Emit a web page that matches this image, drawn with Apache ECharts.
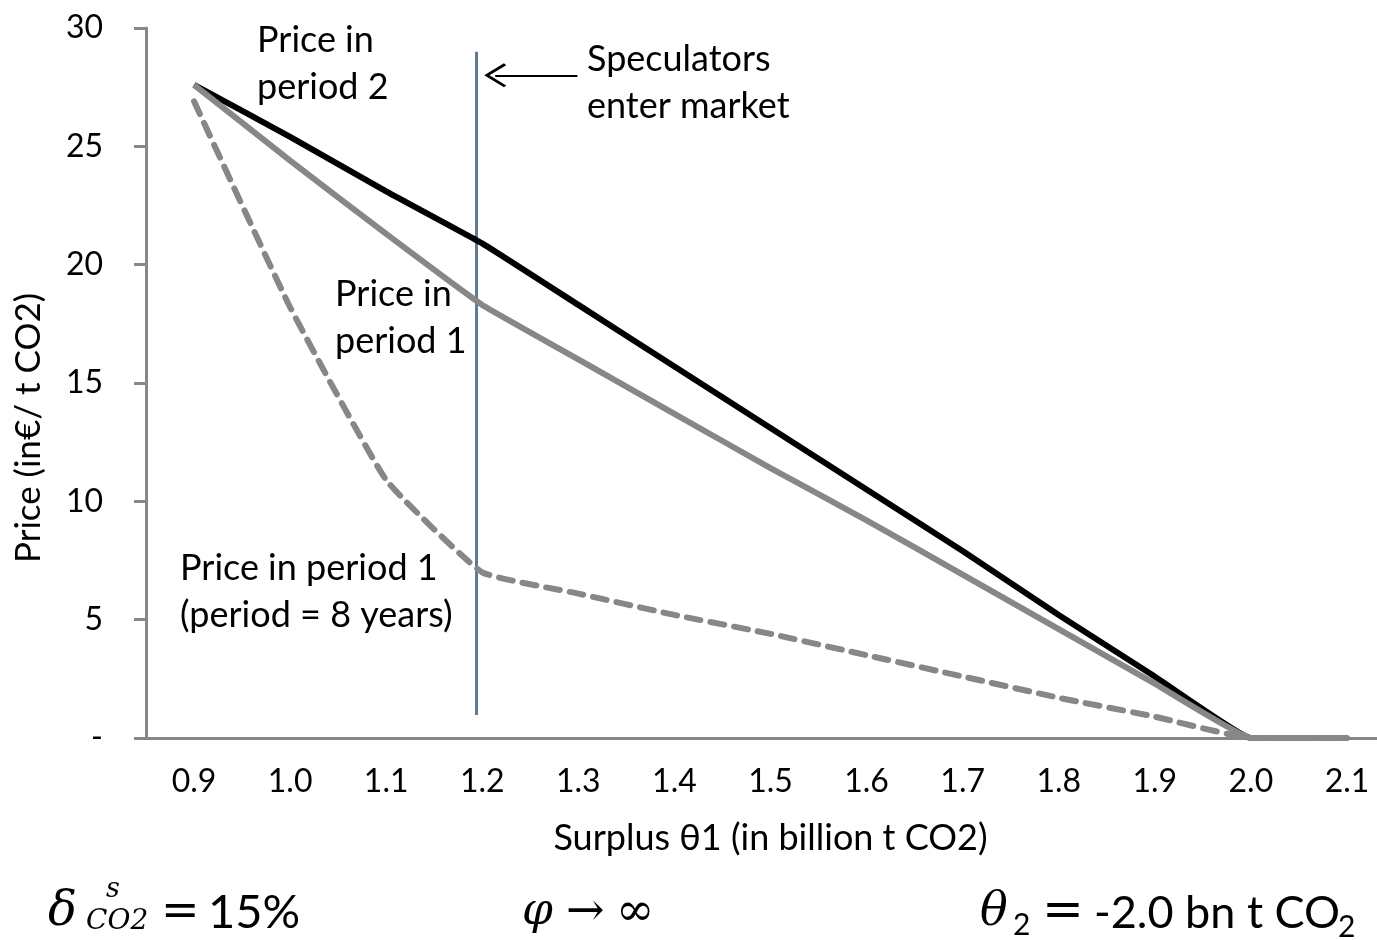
<!DOCTYPE html>
<html lang="en">
<head>
<meta charset="UTF-8">
<title>price vs surplus</title>
<style type="text/css">
body,html{width:100%;height:100%;margin:0;padding:0;background:#fff;overflow:hidden;}
#container{width:1377px;height:940px;}
</style>
</head>
<body>
<div id="container"></div>
<script type="text/javascript" src="https://cdn.jsdelivr.net/npm/echarts@6/dist/echarts.min.js"></script>
<script type="text/javascript">
// surplus theta1 (bn t CO2)
var categories = ['0.9', '1.0', '1.1', '1.2', '1.3', '1.4', '1.5', '1.6', '1.7', '1.8', '1.9', '2.0', '2.1'];
// prices in EUR / t CO2
var pricePeriod2 = [27.6, 25.4, 23.1, 20.9, 18.3, 15.7, 13.1, 10.5, 7.9, 5.2, 2.6, 0, 0];
var pricePeriod1 = [27.6, 24.4, 21.3, 18.3, 16.0, 13.7, 11.4, 9.2, 6.9, 4.6, 2.3, 0, 0];
var pricePeriod1Long = [26.9, 18.2, 10.9, 7.0, 6.1, 5.2, 4.4, 3.5, 2.6, 1.7, 0.9, 0, 0];
var yTicks = [0, 5, 10, 15, 20, 25, 30];
// "speculators enter market" marker, in surplus / price units
var speculatorLine = [[1.194, 0.97], [1.194, 29.0]];
var arrowLine = [[1.299, 28.0], [1.2135, 28.0]];

var sans = 'Lato';
var serif = 'DejaVu Serif';
var gray = '#878787';

function txt(str, x, y, size, extra) {
	var s = {text: str, x: x, y: y, fontSize: size, fontFamily: sans, fill: '#000', lineHeight: 47, verticalAlign: 'top'};
	for (var k in extra) s[k] = extra[k];
	return {type: 'text', style: s, z: 10};
}

var option = {
	backgroundColor: '#fff',
	animation: false,
	// plot runs past the right edge, as in the original crop
	grid: {left: 146, top: 28, right: -18, bottom: 202, outerBoundsMode: 'none'},
	xAxis: [{
		type: 'category',
		data: categories,
		boundaryGap: true,
		name: 'Surplus \u03b81 (in billion t CO2)',
		nameLocation: 'middle',
		nameGap: 82,
		nameTextStyle: {fontFamily: sans, fontSize: 36, color: '#000'},
		axisLine: {lineStyle: {color: gray, width: 3}},
		axisTick: {length: 11, lineStyle: {color: gray, width: 3}},
		axisLabel: {fontFamily: sans, fontSize: 32, color: '#000', margin: 28, interval: 0}
	}, {
		type: 'value',
		min: 0.85,
		max: 2.15,
		show: false
	}],
	yAxis: {
		type: 'value',
		min: 0,
		max: 30,
		interval: 5,
		name: 'Price (in\u20ac/ t CO2)',
		nameLocation: 'middle',
		nameGap: 100,
		nameTextStyle: {fontFamily: sans, fontSize: 35, color: '#000', padding: [0, 90, 0, 0]},
		splitLine: {show: false},
		axisLine: {show: true, lineStyle: {color: gray, width: 3}},
		axisTick: {show: true, length: 12, lineStyle: {color: gray, width: 3}},
		axisLabel: {
			fontFamily: sans, fontSize: 32, color: '#000', margin: 43,
			formatter: function (v) { return v === 0 ? '-' : String(v); }
		}
	},
	series: [{
		name: 'Price in period 2',
		type: 'line',
		data: pricePeriod2,
		showSymbol: false,
		smooth: 0.08,
		lineStyle: {color: '#000', width: 6},
		z: 3
	}, {
		name: 'Price in period 1',
		type: 'line',
		data: pricePeriod1,
		showSymbol: false,
		smooth: 0.08,
		lineStyle: {color: gray, width: 6},
		z: 4
	}, {
		name: 'Price in period 1 (period = 8 years)',
		type: 'line',
		data: pricePeriod1Long,
		showSymbol: false,
		smooth: 0.12,
		lineStyle: {color: gray, width: 6, type: [14, 10], cap: 'round'},
		z: 5
	}, {
		name: 'Speculators enter market',
		type: 'line',
		xAxisIndex: 1,
		data: speculatorLine,
		showSymbol: false,
		lineStyle: {color: '#5b7d95', width: 3},
		z: 2,
		markLine: {
			silent: true,
			symbol: ['none', 'path://M10,0 L20,12 L18.4,13.4 L10,3.2 L1.6,13.4 L0,12 Z'],
			symbolSize: [24, 22],
			label: {show: false},
			lineStyle: {color: '#000', width: 2, type: 'solid'},
			data: [[{coord: arrowLine[0]}, {coord: arrowLine[1]}]]
		}
	}],
	graphic: [
		txt('Price in\nperiod 2', 257, 17, 36),
		txt('Speculators\nenter market', 587, 36, 36),
		txt('Price in\nperiod 1', 335, 271, 36),
		txt('Price in period 1\n(period = 8 years)', 180, 545, 36),
		// formulas under the chart
		txt('\u03b4', 48, 913, 48, {fontFamily: serif, fontStyle: 'italic', verticalAlign: 'middle'}),
		txt('s', 106, 890, 27, {fontFamily: serif, fontStyle: 'italic', verticalAlign: 'middle'}),
		txt('CO2', 86, 922, 28, {fontFamily: serif, fontStyle: 'italic', verticalAlign: 'middle'}),
		txt('=', 161, 913, 46, {fontFamily: serif, verticalAlign: 'middle'}),
		txt('15%', 208, 913, 47, {verticalAlign: 'middle'}),
		txt('\u03c6', 522, 913, 44, {fontFamily: serif, fontStyle: 'italic', verticalAlign: 'middle'}),
		txt('\u2192', 566, 913, 46, {fontFamily: serif, verticalAlign: 'middle'}),
		txt('\u221e', 616, 913, 46, {fontFamily: serif, verticalAlign: 'middle'}),
		txt('\u03b8', 980, 913, 46, {fontFamily: serif, fontStyle: 'italic', verticalAlign: 'middle'}),
		txt('2', 1013, 925, 30, {verticalAlign: 'middle'}),
		txt('=', 1042, 913, 50, {fontFamily: serif, verticalAlign: 'middle'}),
		txt('-2.0 bn t CO', 1094, 913, 45, {verticalAlign: 'middle'}),
		txt('2', 1338, 927, 30, {verticalAlign: 'middle'})
	]
};

var container = echarts.init(document.getElementById('container'));
container.setOption(option, true);
window.addEventListener('resize', function () {
	container.resize();
});
</script>
</body>
</html>
